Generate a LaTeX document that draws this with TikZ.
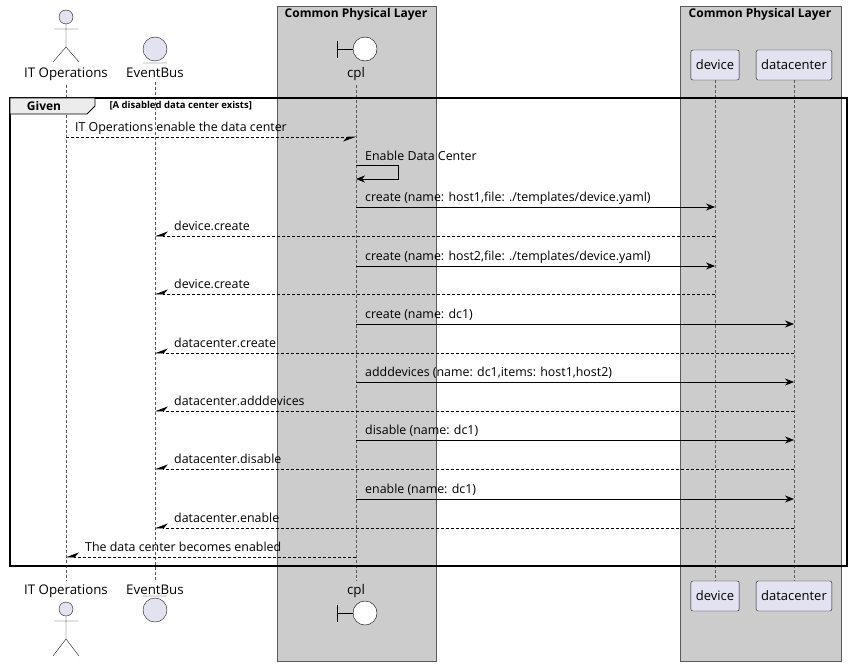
\documentclass[tikz,border=0pt]{standalone}
\usepackage{fontspec}
\setmainfont{Open Sans}
\usetikzlibrary{arrows.meta}
\definecolor{partfill}{HTML}{E2E2F0}
\definecolor{partline}{HTML}{181818}
\begin{document}
\begin{tikzpicture}[x=1pt,y=-1pt,
  lifeline/.style={densely dashed,gray!70!black,line width=0.5pt},
  part node/.style={draw=partline,fill=partfill,rounded corners=2pt,minimum height=30pt,inner xsep=5pt,font=\fontsize{13}{15}\selectfont},
  plabel/.style={font=\fontsize{13.3}{15}\selectfont,anchor=base},
  msg/.style={-{Stealth[length=9pt,width=7pt]},line width=0.6pt},
  reply/.style={densely dashed,-{Stealth[harpoon,swap,length=12pt,width=9pt]},line width=0.6pt},
  mlabel/.style={font=\fontsize{12.4}{14}\selectfont,inner sep=1pt,anchor=base west},
  grp/.style={fill=gray!40,draw=gray!70!black,line width=0.5pt}]
  \useasboundingbox (0,0) rectangle (850,666);

  % boxes
  \draw[grp] (277,6) rectangle (436,661);
  \draw[grp] (680,6) rectangle (841,661);
  \node[font=\bfseries\fontsize{12}{13}\selectfont] at (356,14) {Common Physical Layer};
  \node[font=\bfseries\fontsize{12}{13}\selectfont] at (760,14) {Common Physical Layer};

  % participants top
  \node[plabel] (itops) at (66,78) {IT Operations};
  \node[plabel] (bus) at (155,78) {EventBus};
  \node[plabel] (cpl) at (356,78) {cpl};
  \node[part node] (dev) at (715,65) {device};
  \node[part node] (dc) at (794,65) {datacenter};
  % participants bottom
  \node[plabel] (itops2) at (66,594) {IT Operations};
  \node[plabel] (bus2) at (155,594) {EventBus};
  \node[plabel] (cpl2) at (356,594) {cpl};
  \node[part node] (dev2) at (715,596) {device};
  \node[part node] (dc2) at (794,596) {datacenter};

  % icons
  \draw[fill=partfill,draw=partline] (66,17) circle (7);
  \draw[partline] (66,24) -- (66,47) (54,29) -- (78,29) (53,62) -- (66,47) -- (79,62);
  \draw[fill=partfill,draw=partline] (66,609) circle (7);
  \draw[partline] (66,616) -- (66,639) (54,621) -- (78,621) (53,656) -- (66,639) -- (79,656);
  \draw[fill=partfill,draw=partline] (155,49) circle (12) (143,63) -- (167,63);
  \draw[fill=partfill,draw=partline] (155,610) circle (12) (143,596) -- (167,596);
  \draw[fill=white,draw=black] (365,49) circle (12);
  \draw (337,41) -- (337,58) (337,49) -- (353,49);
  \draw[fill=white,draw=black] (365,613) circle (12);
  \draw (337,605) -- (337,622) (337,613) -- (353,613);

  % lifelines
  \foreach \a/\b in {itops/itops2,bus/bus2,cpl/cpl2,dev/dev2,dc/dc2}
    \draw[lifeline] (\a.south) -- (\b.north);

  % frame
  \draw[line width=1.2pt] (10,98) rectangle (847,566);
  \draw[fill=gray!15,line width=0.8pt] (10,98) -- (95,98) -- (95,106) -- (87,114) -- (10,114) -- cycle;
  \node[font=\bfseries\fontsize{12}{13}\selectfont] at (44,106) {Given};
  \node[font=\bfseries\fontsize{9.5}{11}\selectfont,anchor=west] at (106,106) {[A disabled data center exists]};

  % messages
  \draw[reply] (itops |- 0,137) -- (cpl |- 0,137);
  \node[mlabel] at (74,131) {IT Operations enable the data center};
  \draw[msg] (cpl |- 0,165) -- (398,165) -- (398,179) -- (cpl |- 0,179);
  \node[mlabel] at (364,160) {Enable Data Center};
  \foreach \y/\t/\to in {207/{create (name: host1,file: ./templates/device.yaml)}/dev,
      266/{create (name: host2,file: ./templates/device.yaml)}/dev,
      324/{create (name: dc1)}/dc,
      382/{adddevices (name: dc1,items: host1,host2)}/dc,
      440/{disable (name: dc1)}/dc,
      499/{enable (name: dc1)}/dc}{
    \draw[msg] (cpl |- 0,\y) -- (\to |- 0,\y);
    \node[mlabel] at (364,\y-6) {\t};}
  \foreach \y/\t/\from in {236/device.create/dev,
      294/device.create/dev,
      353/datacenter.create/dc,
      411/datacenter.adddevices/dc,
      469/datacenter.disable/dc,
      528/datacenter.enable/dc}{
    \draw[reply] (\from |- 0,\y) -- (bus |- 0,\y);
    \node[mlabel] at (173,\y-6) {\t};}
  \draw[reply] (cpl |- 0,557) -- (itops |- 0,557);
  \node[mlabel] at (84,551) {The data center becomes enabled};
\end{tikzpicture}
\end{document}
